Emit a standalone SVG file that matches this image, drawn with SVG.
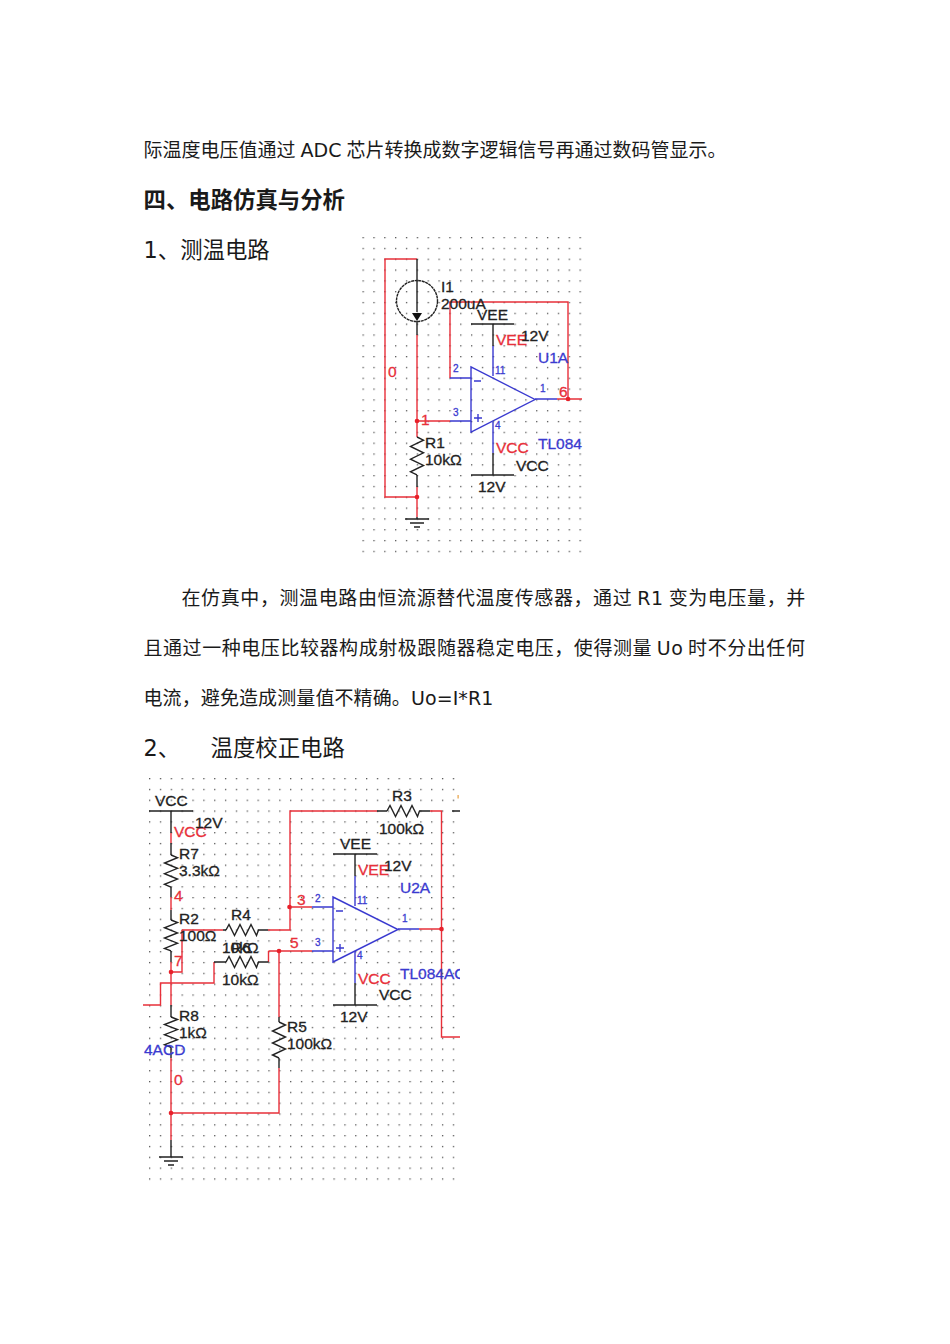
<svg xmlns="http://www.w3.org/2000/svg" width="950" height="1344" viewBox="0 0 950 1344">
<style>
.body{font-family:"DejaVu Sans","Noto Sans CJK SC",sans-serif;font-size:19px;fill:#1a1a1a}
.head{font-family:"DejaVu Sans","Noto Sans CJK SC",sans-serif;font-size:22.4px;fill:#1a1a1a}
.bold{font-weight:bold}
.w{fill:none;stroke-width:1.4}
.r{stroke:#e8303a}.k{stroke:#222}.b{stroke:#3a3ad0}
.sch{font-family:"Liberation Sans",Arial,sans-serif;font-size:15.5px;stroke-width:.3}
.kt{fill:#222;stroke:#222}.rt{fill:#e8303a;stroke:#e8303a}.bt{fill:#3a3ad0;stroke:#3a3ad0}
.pin{font-size:10px}
.dot{fill:#e8202a}
</style>
<defs>
<pattern id="grid1" x="362.5" y="237" width="10.85" height="10.82" patternUnits="userSpaceOnUse"><rect x="0" y="0" width="1.3" height="1.3" fill="#555"/></pattern>
<pattern id="grid2" x="149" y="778" width="10.85" height="10.82" patternUnits="userSpaceOnUse"><rect x="0" y="0" width="1.3" height="1.3" fill="#555"/></pattern>
<path id="rv" class="w k" vector-effect="non-scaling-stroke" d="M0 0l6.5 3l-13 6l13 6l-13 6l13 6l-13 6l6.5 3"/>
<path id="rh" class="w k" d="M0 0l3-5.5l5.500 11l5.500-11l5.500 11l5.500-11l5.500 11l2-5.500"/>
<g id="gnd"><path class="w k" d="M-12 0h24M-7 4h14M-3 8h6"/></g>
<clipPath id="c2"><rect x="143" y="770" width="317" height="415"/></clipPath>
</defs>
<rect width="950" height="1344" fill="#fff"/>

<g id="page-text">
<text class="body" x="143.500" y="157" word-spacing="-1">际温度电压值通过 ADC 芯片转换成数字逻辑信号再通过数码管显示。</text>
<text class="head bold" x="143.500" y="208">四、电路仿真与分析</text>
<text class="head" x="143.500" y="258">1、测温电路</text>
<text class="body" x="181.500" y="605" letter-spacing=".6" word-spacing="-1.7">在仿真中，测温电路由恒流源替代温度传感器，通过 R1 变为电压量，并</text>
<text class="body" x="143.500" y="655" letter-spacing=".56" word-spacing="-1.9">且通过一种电压比较器构成射极跟随器稳定电压，使得测量 Uo 时不分出任何</text>
<text class="body" x="143.500" y="705" letter-spacing=".1">电流，避免造成测量值不精确。Uo=I*R1</text>
<text class="head" x="143.500" y="756">2、</text>
<text class="head" x="210.500" y="756">温度校正电路</text>
</g>

<rect id="grid-a" x="362" y="236" width="220" height="317" fill="url(#grid1)"/>
<rect id="grid-b" x="148" y="777" width="308" height="404" fill="url(#grid2)"/>

<g id="connectors-a">
<path class="w r" d="M417 259H385V497H417M417 335V437M417 487V517M417 421H450M450 378V302H568V399M557 399H582"/>
<path class="w k" d="M417 259V281M417 321V335M417 475V487M417 517V519M493 324V346M493 453V475"/>
<path class="w b" d="M450 421H471M450 378H471M535 399H557M493 346V376M493 422V453"/>
<circle class="dot" cx="417" cy="421" r="2.3"/><circle class="dot" cx="417" cy="497" r="2.3"/><circle class="dot" cx="568" cy="399" r="2.3"/>
</g>
<g id="I1">
<circle class="w k" cx="417" cy="301" r="20.5" stroke-dasharray="3 0.6"/>
<path class="w k" d="M417 281V312"/><path fill="#111" d="M412 313h10l-5 8z"/>
<text class="sch kt" x="441" y="292">I1</text><text class="sch kt" x="441" y="309">200uA</text>
</g>
<g id="R1"><use href="#rv" transform="translate(417 437) scale(1 1.055)"/>
<text class="sch kt" x="425" y="448">R1</text><text class="sch kt" x="425" y="465">10kΩ</text></g>
<g id="GND1"><use href="#gnd" transform="translate(417 519)"/></g>
<g id="U1A">
<path class="w b" d="M471 367V432L535 399.500Z"/>
<path class="w b" d="M474 381h7M474 418h8M478 414v8"/>
<text class="sch bt" x="538" y="363">U1A</text><text class="sch bt" x="538" y="449">TL084</text>
<g class="sch bt pin"><text x="453" y="372">2</text><text x="453" y="416">3</text><text x="495" y="374">11</text><text x="540" y="392">1</text><text x="495" y="429">4</text></g>
</g>
<g id="VEE1"><path class="w k" d="M471 324H514"/>
<text class="sch kt" x="477" y="320">VEE</text><text class="sch rt" x="496" y="345">VEE</text><text class="sch kt" x="521" y="341">12V</text></g>
<g id="VCC1"><path class="w k" d="M471 475H514"/>
<text class="sch rt" x="496" y="453">VCC</text><text class="sch kt" x="516" y="471">VCC</text><text class="sch kt" x="478" y="492">12V</text></g>
<g id="nets-a" class="sch"><text class="rt" x="388" y="377">0</text><text class="rt" x="421" y="425">1</text><text class="rt" x="559" y="397">6</text></g>

<g id="connectors-b" clip-path="url(#c2)">
<path class="w r" d="M171 833V843M171 897V910M171 962V1005M171 1058V1140M182 930V972H171M182 930H223M268 930H290V811H377M430 811H441.500V1037H460M289 907H312M268.500 951H312M279 951V1017M279 1068V1113H171M214 962V983H160.500V1005H143M419 929H441.500M268.500 962V951"/>
<path class="w k" d="M171 811V833M171 843V855M171 887V897M171 910V920M171 951V962M171 1005V1017M171 1047V1058M171 1140V1157M223 930H226M258 930H268M377 811H387M419 811H430M214 962H226M258 962H268.500M279 1017V1022M279 1058V1068M355 854V876M355 983V1005M452 811H460"/>
<path class="w b" d="M312 907H333M312 951H333M398 929H419M355 876V906M355 951V983"/>
<circle class="dot" cx="289.500" cy="907" r="2.3"/><circle class="dot" cx="279" cy="951" r="2.3"/><circle class="dot" cx="441.500" cy="929" r="2.3"/><circle class="dot" cx="171" cy="972" r="2.3"/><circle class="dot" cx="171" cy="1113" r="2.3"/>
</g>
<rect id="mark" x="457.500" y="795" width="1.2" height="3.500" fill="#e8a040"/>
<g id="VCC2"><path class="w k" d="M149 811H193"/>
<text class="sch kt" x="155" y="806">VCC</text><text class="sch rt" x="174" y="837">VCC</text><text class="sch kt" x="195" y="828">12V</text></g>
<g id="R7"><use href="#rv" transform="translate(171 855) scale(1 0.89)"/><text class="sch kt" x="179" y="859">R7</text><text class="sch kt" x="179" y="876">3.3kΩ</text></g>
<g id="R2"><use href="#rv" transform="translate(171 920) scale(1 0.86)"/><text class="sch kt" x="179" y="924">R2</text><text class="sch kt" x="179" y="941">100Ω</text></g>
<g id="R8"><use href="#rv" transform="translate(171 1017) scale(1 0.84)"/><text class="sch kt" x="179" y="1021">R8</text><text class="sch kt" x="179" y="1038">1kΩ</text></g>
<g id="R5"><use href="#rv" transform="translate(279 1022)"/><text class="sch kt" x="287" y="1032">R5</text><text class="sch kt" x="287" y="1049">100kΩ</text></g>
<g id="R3"><use href="#rh" transform="translate(387 811)"/><text class="sch kt" x="392" y="801">R3</text><text class="sch kt" x="379" y="834">100kΩ</text></g>
<g id="R4"><use href="#rh" transform="translate(226 930)"/><text class="sch kt" x="231" y="920">R4</text><text class="sch kt" x="222" y="953">10kΩ</text></g>
<g id="R6"><use href="#rh" transform="translate(226 962)"/><text class="sch kt" x="231" y="953">R6</text><text class="sch kt" x="222" y="985">10kΩ</text></g>
<g id="U2A" clip-path="url(#c2)">
<path class="w b" d="M333 897V962L398 929.500Z"/>
<path class="w b" d="M336 911h7M336 948h8M340 944v8"/>
<text class="sch bt" x="400" y="893">U2A</text><text class="sch bt" x="400" y="979">TL084ACD</text>
<g class="sch bt pin"><text x="315" y="902">2</text><text x="315" y="946">3</text><text x="357" y="904">11</text><text x="402" y="922">1</text><text x="357" y="959">4</text></g>
</g>
<g id="VEE2"><path class="w k" d="M333 854H377"/>
<text class="sch kt" x="340" y="849">VEE</text><text class="sch rt" x="358" y="875">VEE</text><text class="sch kt" x="384" y="871">12V</text></g>
<g id="VCC3"><path class="w k" d="M333 1005H377"/>
<text class="sch rt" x="358" y="984">VCC</text><text class="sch kt" x="379" y="1000">VCC</text><text class="sch kt" x="340" y="1022">12V</text></g>
<g id="GND2"><use href="#gnd" transform="translate(171 1157)"/></g>
<g id="U-left"><text class="sch bt" x="144" y="1055">4ACD</text></g>
<g id="nets-b" class="sch"><text class="rt" x="174" y="901">4</text><text class="rt" x="174" y="966">7</text><text class="rt" x="297" y="905">3</text><text class="rt" x="290" y="948">5</text><text class="rt" x="174" y="1085">0</text></g>
</svg>
